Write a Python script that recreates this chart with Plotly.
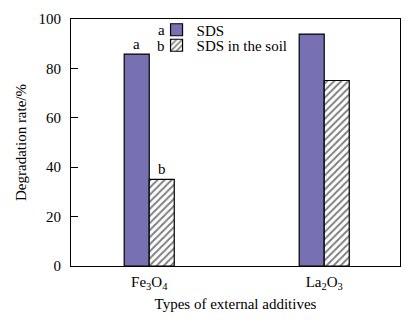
import plotly.graph_objects as go

categories = ["Fe<sub>3</sub>O<sub>4</sub>", "La<sub>2</sub>O<sub>3</sub>"]
sds = [85.8, 93.9]
sds_soil = [35.1, 75.1]
series_names = ["SDS", "SDS in the soil"]
y_ticks = [0, 20, 40, 60, 80, 100]

FONT = "Liberation Serif"
FS = 15

fig = go.Figure()
fig.add_trace(go.Bar(
    x=categories, y=sds, name=series_names[0], legend="legend",
    marker=dict(color="#7771B3", line=dict(color="black", width=1.2)),
))
fig.add_trace(go.Bar(
    x=categories, y=sds_soil, name=series_names[1], legend="legend2",
    marker=dict(color="white", line=dict(color="black", width=1.2),
                pattern=dict(shape="/", fgcolor="black", bgcolor="white", size=5, solidity=0.4)),
))

# significance letters above Fe3O4 bars
fig.add_annotation(x=categories[0], y=sds[0], text="a", showarrow=False,
                   xshift=-12.5, yanchor="bottom", font=dict(size=FS, family=FONT, color="black"))
fig.add_annotation(x=categories[0], y=sds_soil[0], text="b", showarrow=False,
                   xshift=12.5, yanchor="bottom", font=dict(size=FS, family=FONT, color="black"))
# letters in legend
fig.add_annotation(xref="paper", yref="paper", x=0.275, y=0.9555, text="a", showarrow=False,
                   xanchor="center", yanchor="middle", font=dict(size=FS, family=FONT, color="black"))
fig.add_annotation(xref="paper", yref="paper", x=0.275, y=0.8927, text="b", showarrow=False,
                   xanchor="center", yanchor="middle", font=dict(size=FS, family=FONT, color="black"))

legend_common = dict(x=0.26, xanchor="left", yanchor="middle", bgcolor="rgba(0,0,0,0)",
                     font=dict(size=FS, family=FONT, color="black"), itemwidth=30)

fig.update_layout(
    width=411, height=328,
    margin=dict(l=71, r=11, t=19, b=62),
    paper_bgcolor="white", plot_bgcolor="white",
    barmode="group", bargap=0.714, bargroupgap=0,
    font=dict(family=FONT, size=FS, color="black"),
    showlegend=True,
    legend=dict(y=0.9555, **legend_common),
    legend2=dict(y=0.8927, **legend_common),
    xaxis=dict(
        range=[-0.447, 1.433], showline=True, linecolor="black", linewidth=1.2, mirror=True,
        ticks="", showgrid=False, ticklabelstandoff=2,
        title=dict(text="Types of external additives", standoff=7, font=dict(size=FS, family=FONT)),
        tickfont=dict(size=FS, family=FONT),
    ),
    yaxis=dict(
        range=[0, 100], tickvals=y_ticks, showline=True, linecolor="black", linewidth=1.2, mirror=True,
        ticks="inside", ticklen=7, tickwidth=1, tickcolor="black", showgrid=False, zeroline=False,
        ticklabelstandoff=6,
        title=dict(text="Degradation rate/%", standoff=8, font=dict(size=FS, family=FONT)),
        tickfont=dict(size=FS, family=FONT),
    ),
)

fig.write_html("out.html")
